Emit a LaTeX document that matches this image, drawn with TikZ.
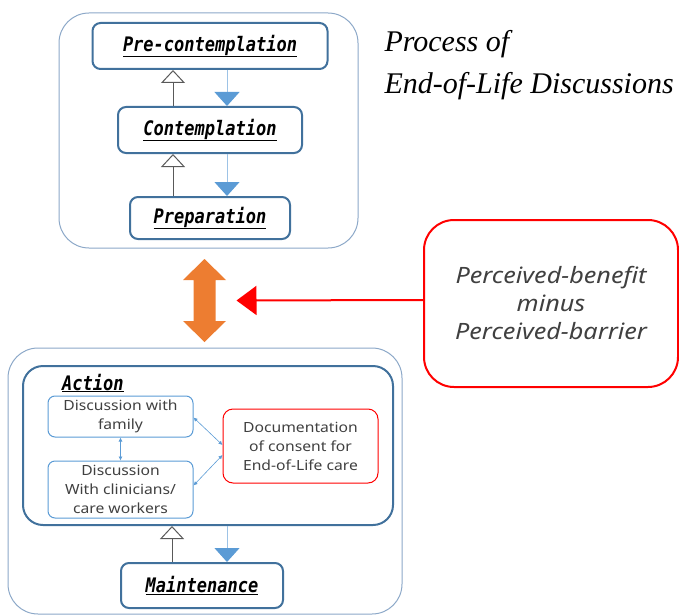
\documentclass[tikz,border=0pt]{standalone}
\usepackage{fontspec}
\usetikzlibrary{arrows.meta, positioning}
\newfontfamily\stagefont{DejaVu Sans Mono}[FakeStretch=0.85]
\newfontfamily\bodyfont{Noto Sans}[FakeStretch=1.12]
\newfontfamily\titlefont{Liberation Serif}
\definecolor{stageblue}{RGB}{65,113,156}
\definecolor{frameblue}{RGB}{140,168,200}
\definecolor{arrowblue}{RGB}{91,155,213}
\definecolor{lineblue}{RGB}{157,195,230}
\definecolor{swingorange}{RGB}{237,125,49}
\definecolor{textgray}{RGB}{64,64,64}
\newcommand{\stagename}[1]{\stagefont\bfseries\itshape\underline{#1}}
\tikzstyle{frame} = [draw=frameblue, line width=1pt, rounded corners=30pt]
\tikzstyle{stage} = [rectangle, rounded corners=8pt, draw=stageblue, line width=2pt, fill=white, inner sep=0pt, minimum height=46pt, font=\fontsize{20}{24}\selectfont]
\tikzstyle{actionbox} = [rectangle, rounded corners=20pt, draw=stageblue, line width=2pt, inner sep=0pt]
\tikzstyle{sub} = [rectangle, rounded corners=7pt, draw=arrowblue, line width=1pt, inner sep=0pt, minimum width=145pt, align=center, text=textgray, font=\bodyfont\fontsize{14}{19}\selectfont]
\tikzstyle{back} = [draw=black!65, line width=1pt, -{Triangle[open, width=24pt, length=13pt]}]
\tikzstyle{forth} = [draw=lineblue, line width=1pt, -{Triangle[width=25pt, length=14pt, color=arrowblue]}]
\tikzstyle{link} = [draw=arrowblue, line width=0.6pt, {Latex[length=4pt, width=4pt]}-{Latex[length=4pt, width=4pt]}]
\tikzstyle{barrier} = [draw=red, line width=2pt, -{Triangle[length=20pt, width=29pt]}]

\begin{document}
\begin{tikzpicture}[x=1pt, y=1pt]
  \useasboundingbox (0,0) rectangle (679,-615);
  % frames
  \draw [frame] (59,-13) rectangle (358,-248);
  \draw [frame] (8,-348) rectangle (402,-614);

  % title
  \node (title1) [anchor=base west, font=\titlefont\itshape\fontsize{30}{36}\selectfont] at (381,-52) {Process of};
  \node (title2) [anchor=base west, font=\titlefont\itshape\fontsize{30}{36}\selectfont] at (381,-94) {End-of-Life Discussions};

  % stages before action
  \node (precon) [stage, minimum width=235pt] at (210,-46) {\stagename{Pre-contemplation}};
  \node (contemp) [stage, minimum width=184pt, node distance=84pt, below of=precon] {\stagename{Contemplation}};
  \node (prep) [stage, minimum width=160pt, minimum height=42pt, node distance=88pt, below of=contemp] {\stagename{Preparation}};

  \draw [back] ([xshift=-37pt]contemp.north) -- ([xshift=-37pt]precon.south);
  \draw [forth] ([xshift=17pt]precon.south) -- ([xshift=17pt]contemp.north);
  \draw [back] ([xshift=-37pt]prep.north) -- ([xshift=-37pt]contemp.south);
  \draw [forth] ([xshift=17pt]contemp.south) -- ([xshift=17pt]prep.north);

  % action and maintenance
  \node (action) [actionbox, minimum width=370pt, minimum height=159pt] at (208,-445.5) {};
  \node (actlabel) [anchor=base west, inner sep=0pt, font=\fontsize{20}{24}\selectfont] at (62,-390) {\stagename{Action}};
  \node (family) [sub, minimum height=41pt] at (120.5,-416.5) {Discussion with\\family};
  \node (clinic) [sub, minimum height=57pt, node distance=73pt, below of=family] {Discussion\\With clinicians/\\care workers};
  \node (consent) [sub, draw=red, minimum width=155pt, minimum height=74pt, rounded corners=10pt] at (300.5,-446) {Documentation\\of consent for\\End-of-Life care};
  \node (maint) [stage, minimum width=162pt, minimum height=45pt] at (202,-585.5) {\stagename{Maintenance}};

  \draw [link] (family) -- (clinic);
  \draw [link] ([yshift=-1pt]family.east) -- ([yshift=1pt]consent.west);
  \draw [link] ([yshift=4pt]clinic.east) -- ([yshift=-9pt]consent.west);
  \draw [back] ([xshift=-30pt]maint.north) -- ([xshift=-36pt]action.south);
  \draw [forth] ([xshift=19pt]action.south) -- ([xshift=25pt]maint.north);

  % balance
  \coordinate (swing) at (204.5,-300.5);
  \fill [swingorange] (204.5,-259) -- (226,-280) -- (215.5,-280) -- (215.5,-321) -- (226,-321) -- (204.5,-342)
    -- (183,-321) -- (193.5,-321) -- (193.5,-280) -- (183,-280) -- cycle;
  \node (factor) [rectangle, rounded corners=30pt, draw=red, line width=2pt, minimum width=254pt, minimum height=167pt, align=center, text=textgray, font=\bodyfont\itshape\fontsize{22.5}{28}\selectfont] at (551,-303.5) {Perceived-benefit\\minus\\Perceived-barrier};
  \draw [barrier] ([yshift=3.5pt]factor.west) -- ([xshift=32pt]swing);
\end{tikzpicture}
\end{document}
